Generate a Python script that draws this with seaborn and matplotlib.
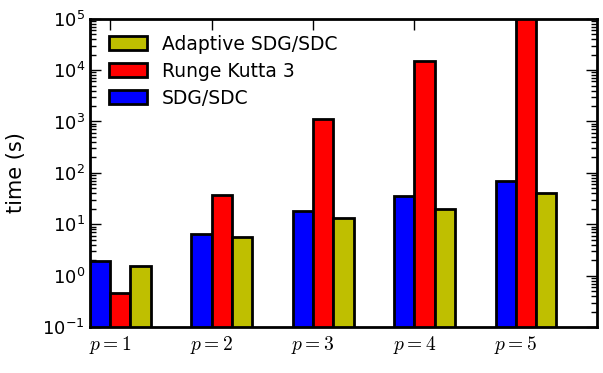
import matplotlib
matplotlib.use("Agg")
import matplotlib.pyplot as plt
import seaborn as sns
import pandas as pd
import numpy as np

categories = ["$p=1$", "$p=2$", "$p=3$", "$p=4$", "$p=5$"]
series_names = ["SDG/SDC", "Runge Kutta 3", "Adaptive SDG/SDC"]
sdg_sdc = [1.9, 6.6, 18.0, 36.0, 69.0]
runge_kutta3 = [0.46, 37.0, 1120.0, 14800.0, 130000.0]
adaptive = [1.53, 5.7, 13.0, 20.0, 40.0]
colors = ["#0000ff", "#ff0000", "#bfbf00"]

df = pd.DataFrame({
    "p": categories * 3,
    "method": [series_names[0]] * 5 + [series_names[1]] * 5 + [series_names[2]] * 5,
    "time": sdg_sdc + runge_kutta3 + adaptive,
})

sns.set_style("white")
plt.rcParams["font.family"] = ["DejaVu Sans"]
plt.rcParams["mathtext.fontset"] = "cm"
for k in ["text.color", "axes.labelcolor", "xtick.color", "ytick.color"]:
    plt.rcParams[k] = "black"

fig = plt.figure(figsize=(6.03, 3.73), dpi=100)
ax = fig.add_axes([0.149, 0.123, 0.841, 0.827])
ax.set_yscale("log")
sns.barplot(data=df, x="p", y="time", hue="method", hue_order=series_names,
            palette=colors, width=0.6, edgecolor="black", linewidth=2,
            errorbar=None, ax=ax, saturation=1)

ax.set_ylim(0.1, 1e5)
ax.set_xlim(-0.3, 4.7)
ax.set_xticks(np.arange(5) - 0.1)
ax.set_xticklabels(categories, fontsize=14)
ax.set_xlabel("")
ax.set_ylabel("time (s)", fontsize=15, labelpad=12)
ax.tick_params(axis="y", labelsize=13)

for s in ax.spines.values():
    s.set_visible(True)
    s.set_linewidth(2)
    s.set_color("black")

ax.tick_params(which="both", direction="in", top=True, right=True, bottom=True, left=True, color="black")
ax.tick_params(which="major", length=8, width=1)
ax.tick_params(which="minor", length=4, width=1)
ax.yaxis.set_minor_locator(matplotlib.ticker.LogLocator(base=10, subs=np.arange(2, 10)))
ax.tick_params(axis="x", pad=5)

handles, labels = ax.get_legend_handles_labels()
leg = ax.legend(handles[::-1], labels[::-1], loc="upper left", frameon=False,
                fontsize=13.5, handlelength=2.0, handleheight=0.75, handletextpad=0.8,
                borderaxespad=0.3, labelspacing=0.42, bbox_to_anchor=(0.012, 0.99))
for h in leg.legend_handles:
    h.set_edgecolor("black")
    h.set_linewidth(2)

fig.savefig("out.png", dpi=100)
